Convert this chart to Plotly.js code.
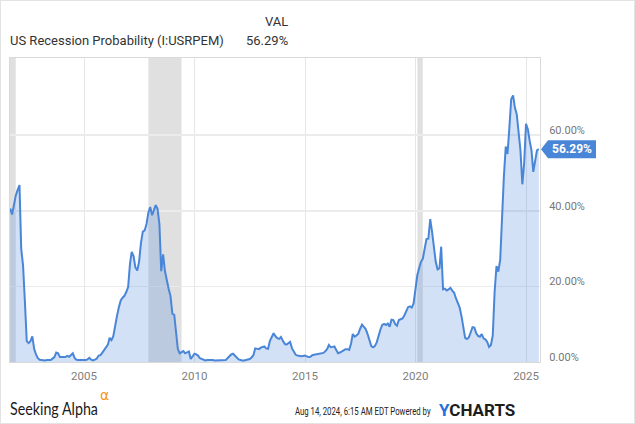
<!DOCTYPE html>
<html>
<head>
<meta charset="utf-8">
<script src="https://cdn.plot.ly/plotly-3.0.1.min.js"></script>
<style>
html,body{margin:0;padding:0;background:#fff;}
#chart{width:635px;height:424px;}
#frame{position:absolute;left:0;top:0;width:633px;height:422px;border:1px solid #e3e3e3;pointer-events:none;}
</style>
</head>
<body>
<div id="chart"></div>
<div id="frame"></div>
<script>
// ---- data (monthly, Aug 2001 .. Jul 2025, values in %) ----
const startYear = 2001;
const startMonthIndex = 7; // August (0-based)
const probability = [
  40.6, 39, 41.5, 44, 45.5,
  46.8, 30, 25.5, 16, 5.5, 5.0, 5.5, 6.8, 3.5, 2.0, 1.0, 0.6,
  0.5, 0.6, 0.4, 0.5, 0.4, 0.5, 0.9, 1.3, 2.5, 2.3, 1.3, 1.2,
  1.3, 1.3, 1.6, 1.4, 1.9, 2.3, 1.0, 0.6, 0.5, 0.5, 0.5, 0.5,
  0.5, 0.7, 1.1, 0.6, 0.4, 0.6, 0.9, 1.7, 1.8, 2.5, 3.2, 3.8,
  4.6, 6.4, 5.8, 6.8, 10, 12.2, 14.5, 16.3, 17, 17.5, 18.5, 19.8,
  26, 29.1, 28, 25, 24.2, 26.5, 31.5, 34.5, 34.8, 36.5, 39.5, 41,
  38.8, 40.2, 41.5, 40.5, 36.5, 24, 28.5, 24, 21.5, 19.3, 17.5, 12.8,
  12.5, 8.0, 3.5, 2.3, 2.7, 2.9, 2.3, 2.6, 2.8, 0.8, 1.5, 2.2,
  2.0, 1.7, 1.0, 0.8, 0.5, 0.4, 0.5, 0.5, 0.6, 0.5, 0.4, 0.4,
  0.4, 0.4, 0.4, 0.4, 0.5, 1.0, 1.6, 2.0, 2.2, 1.8, 1.2, 0.7,
  0.5, 0.4, 0.4, 0.5, 0.6, 0.8, 1.2, 1.8, 3.6, 3.4, 3.4, 3.8,
  3.9, 4.1, 3.6, 3.5, 5.6, 6.8, 7.6, 6.8, 6.3, 6.1, 6.6, 5.6,
  4.8, 4.6, 5.0, 5.3, 3.6, 2.6, 1.9, 1.7, 1.5, 1.5, 1.6, 1.7,
  1.5, 1.3, 1.4, 1.8, 1.9, 2.0, 2.0, 2.1, 2.2, 2.4, 2.8, 3.4,
  4.5, 3.9, 4.0, 4.1, 3.2, 2.3, 2.5, 2.9, 3.1, 3.4, 3.4, 3.2,
  4.9, 7.4, 6.7, 7.0, 7.5, 8.8, 9.9, 9.3, 8.7, 7.4, 5.8, 4.2,
  3.9, 4.2, 5.2, 7.1, 8.6, 9.8, 10.1, 9.8, 10.2, 9.3, 11.2, 11.1,
  10.0, 9.6, 11.1, 11.3, 11.5, 12.3, 13.2, 14.5, 14.7, 14.4, 15.5, 19.5,
  23, 24.8, 26.5, 27.3, 30.5, 32.5, 32.6, 37.8, 34.5, 30.5, 26.5, 24.5,
  24.8, 30.5, 19.2, 19.4, 18.9, 19.2, 19.6, 18.9, 18.3, 16.8, 15.5, 14.4,
  12.0, 8.8, 6.4, 6.1, 6.5, 7.8, 9.2, 9.1, 7.6, 6.9, 6.7, 7.4,
  6.2, 6.0, 5.3, 4.0, 4.5, 7.0, 18.5, 25.4, 23.9, 27, 40, 49,
  57, 55, 62, 69.5, 70.5, 67.3, 65.5, 60.4, 56, 47, 52.5, 63,
  61.5, 58.6, 56, 50.3, 52.8, 56, 56.29
];
const recessionStarts = ['2001-03-01', '2007-12-01', '2020-02-01'];
const recessionEnds   = ['2001-11-30', '2009-06-01', '2020-04-30'];
const yTicks = [0, 20, 40, 60];
const seriesName = 'US Recession Probability (I:USRPEM)';
const valueHeader = 'VAL';
const lastValue = 56.29;
const brand = 'Seeking Alpha';
const stamp = 'Aug 14, 2024, 6:15 AM EDT Powered by';

// month-end dates
const dates = probability.map((_, i) => {
  const d = new Date(Date.UTC(startYear, startMonthIndex + i + 1, 0));
  return d.toISOString().slice(0, 10);
});

// pixel -> paper helpers (plot area: x 10..540, y 58..362)
const L = 10, R = 540, T = 58, B = 362;
const px = x => (x - L) / (R - L);
const py = y => (B - y) / (B - T);
const yMax = 80.4;

const blue = '#4a86d8';
const font = 'Roboto, "Open Sans", sans-serif';

const trace = {
  x: dates, y: probability, type: 'scatter', mode: 'lines',
  line: {color: blue, width: 2},
  fill: 'tozeroy', fillcolor: 'rgba(74,134,216,0.25)',
  hoverinfo: 'skip', showlegend: false
};

const shapes = recessionStarts.map((s, i) => ({
  type: 'rect', xref: 'x', yref: 'paper', x0: s, x1: recessionEnds[i], y0: 0, y1: 1,
  fillcolor: '#e0e0e0', line: {width: 0}, layer: 'below'
}));
shapes.push({
  type: 'path', xref: 'paper', yref: 'paper', xsizemode: 'pixel', ysizemode: 'pixel',
  xanchor: 1, yanchor: lastValue / yMax,
  path: 'M 1 0 L 8 9 L 56 9 L 56 -9 L 8 -9 Z',
  fillcolor: blue, line: {width: 0}
});

const annotations = [
  {text: seriesName, x: px(8), y: py(40), xanchor: 'left', yanchor: 'middle',
   font: {family: font, size: 13, color: '#333'}},
  {text: valueHeader, x: px(290), y: py(22), xanchor: 'right', yanchor: 'middle',
   font: {family: font, size: 13, color: '#333'}},
  {text: lastValue.toFixed(2) + '%', x: px(290), y: py(40), xanchor: 'right', yanchor: 'middle',
   font: {family: font, size: 13, color: '#333'}},
  {text: '<b>' + lastValue.toFixed(2) + '%</b>', xref: 'paper', x: 1, yref: 'y', y: lastValue,
   xanchor: 'center', yanchor: 'middle', xshift: 32,
   font: {family: font, size: 12, color: '#fff'}},
  {text: brand, x: px(8), y: py(408), xanchor: 'left', yanchor: 'middle',
   font: {family: 'Lato, Roboto, sans-serif', size: 17, color: '#1a1a1a'}},
  {text: 'α', x: px(98), y: py(395), xanchor: 'left', yanchor: 'middle',
   font: {family: '"DejaVu Sans", sans-serif', size: 14, color: '#f7931e'}},
  {text: stamp, x: px(434), y: py(411), xanchor: 'right', yanchor: 'middle',
   font: {family: font, size: 11, color: '#222'}},
  {text: '<b><span style="color:#2a6fdb">Y</span>CHARTS</b>', x: px(437), y: py(410),
   xanchor: 'left', yanchor: 'middle',
   font: {family: font, size: 17, color: '#1d1d1d'}}
].map(a => Object.assign({xref: 'paper', yref: 'paper', showarrow: false}, a));

const layout = {
  width: 635, height: 424,
  margin: {l: L, r: 635 - R, t: T, b: 424 - B, pad: 0},
  paper_bgcolor: '#fff', plot_bgcolor: '#fff',
  showlegend: false,
  xaxis: {
    type: 'date', range: ['2001-08-27', '2025-08-19'],
    tick0: '2000-01-01', dtick: 'M60', tickformat: '%Y', ticks: '',
    showgrid: true, gridcolor: '#e6e6e6', gridwidth: 1,
    showline: true, linecolor: '#d9d9d9', linewidth: 1, mirror: true,
    zeroline: false, ticklabelstandoff: 3,
    tickfont: {family: font, size: 11.5, color: '#808080'}
  },
  yaxis: {
    side: 'right', range: [0, yMax],
    tickvals: yTicks, ticktext: yTicks.map(v => v.toFixed(2) + '%'), ticks: '',
    showgrid: true, gridcolor: '#ebebeb', gridwidth: 1.5,
    showline: true, linecolor: '#d9d9d9', linewidth: 1, mirror: true,
    zeroline: false, ticklabelstandoff: 6, ticklabelshift: -5,
    tickfont: {family: font, size: 11, color: '#777'}
  },
  shapes: shapes,
  annotations: annotations
};

// horizontally condense a text (narrow reference fonts are not installed),
// keeping its left or right edge in place
function condense(t, target, keep) {
  const w0 = t.getComputedTextLength();
  if (!(w0 > target)) return;
  const s = target / w0;
  const cx = parseFloat(t.getAttribute('x')) || 0;
  const shift = keep === 'right' ? (w0 - target) / 2 : -(w0 - target) / 2;
  const old = t.getAttribute('transform') || '';
  t.setAttribute('transform',
    'translate(' + (cx * (1 - s) + shift).toFixed(2) + ',0) scale(' + s.toFixed(4) + ',1) ' + old);
}

Plotly.newPlot('chart', [trace], layout, {staticPlot: true, displayModeBar: false}).then(() => {
  document.querySelectorAll('text.annotation-text').forEach(t => {
    if (t.textContent === stamp) condense(t, 136, 'right');
    if (t.textContent === brand) condense(t, 88, 'left');
  });
});
</script>
</body>
</html>
